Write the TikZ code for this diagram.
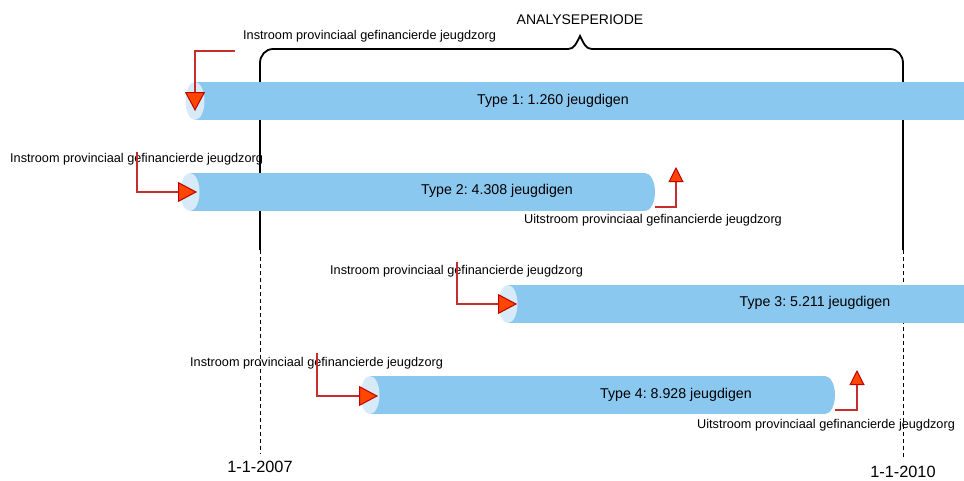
\documentclass[tikz,border=0pt]{standalone}
\usepackage{fontspec}
\setmainfont{Liberation Sans}
\frenchspacing
\usetikzlibrary{arrows.meta}
\definecolor{barblue}{RGB}{139,200,240}
\definecolor{barface}{RGB}{214,234,247}
\definecolor{redline}{RGB}{200,45,45}
\definecolor{tipfill}{RGB}{255,70,0}
\definecolor{tipdraw}{RGB}{190,0,0}
\tikzset{
  lbl/.style={inner sep=0pt, anchor=west, font=\fontsize{12.7}{14}\selectfont},
  typetxt/.style={inner sep=0pt, font=\fontsize{14.2}{16}\selectfont},
  datetxt/.style={inner sep=0pt, font=\fontsize{16.3}{18}\selectfont},
  brace/.style={line width=1.8pt, black},
  dashline/.style={line width=1pt, black, dash pattern=on 4pt off 3pt},
  bigarrow/.style={line width=1.4pt, redline, -{Triangle[length=19pt,width=20pt,fill=tipfill,color=tipdraw,line width=1pt]}},
  smallarrow/.style={line width=1.4pt, redline, -{Triangle[length=15pt,width=15pt,fill=tipfill,color=tipdraw,line width=1pt]}},
}
\begin{document}
\begin{tikzpicture}[x=1pt,y=-1pt]
\useasboundingbox (0,0) rectangle (964,480);
% analysis period brace and date lines
\coordinate (bl) at (260,250);
\coordinate (br) at (903,250);
\coordinate (peak) at (580,36);
\draw[brace] (bl) -- (260,63) to[out=90,in=180] (273,49) -- (568,49)
  .. controls (574,49) and (576,44) .. (peak)
  .. controls (584,44) and (586,49) .. (592,49) -- (890,49)
  to[out=0,in=90] (903,63) -- (br);
\coordinate (dl) at (260,454);
\coordinate (dr) at (903,457);
\draw[dashline] (bl) -- (dl);
\draw[dashline] (br) -- (dr);
% bars
\fill[barblue] (195,82) rectangle (964,120);
\fill[barface] (195,101) ellipse [x radius=9.5, y radius=19];
\fill[barblue] (190,173) rectangle (645,211);
\fill[barblue] (645,192) ellipse [x radius=10, y radius=19];
\fill[barface] (190,192) ellipse [x radius=9.5, y radius=19];
\fill[barblue] (508,285) rectangle (964,323);
\fill[barface] (508,304) ellipse [x radius=9.5, y radius=19];
\fill[barblue] (370,376) rectangle (825,414);
\fill[barblue] (825,395) ellipse [x radius=10, y radius=19];
\fill[barface] (370,395) ellipse [x radius=9.5, y radius=19];
% bar texts
\node[typetxt] (t1) at (553,101) {Type 1: 1.260 jeugdigen};
\node[typetxt] (t2) at (497,191) {Type 2: 4.308 jeugdigen};
\node[typetxt] (t3) at (815,303) {Type 3: 5.211 jeugdigen};
\node[typetxt] (t4) at (676,395) {Type 4: 8.928 jeugdigen};
% labels
\node[inner sep=0pt, font=\fontsize{14}{16}\selectfont] (ap) at (580,20) {ANALYSEPERIODE};
\node[lbl] (i1) at (243,36) {Instroom provinciaal gefinancierde jeugdzorg};
\node[lbl] (i2) at (10,159) {Instroom provinciaal gefinancierde jeugdzorg};
\node[lbl] (i3) at (330,271) {Instroom provinciaal gefinancierde jeugdzorg};
\node[lbl] (i4) at (190,363) {Instroom provinciaal gefinancierde jeugdzorg};
\node[lbl] (u2) at (524,220) {Uitstroom provinciaal gefinancierde jeugdzorg};
\node[lbl] (u4) at (697,425) {Uitstroom provinciaal gefinancierde jeugdzorg};
\node[datetxt] (d1) at (260,467) {1-1-2007};
\node[datetxt] (d2) at (903,472) {1-1-2010};
% inflow / outflow arrows
\coordinate (s1) at (235,51);
\coordinate (e1) at (195,111);
\draw[bigarrow] (s1) -| (e1);
\coordinate (s2) at (137,152);
\coordinate (e2) at (197,192);
\draw[bigarrow] (s2) |- (e2);
\coordinate (s3) at (457,262);
\coordinate (e3) at (517,304);
\draw[bigarrow] (s3) |- (e3);
\coordinate (s4) at (317,353);
\coordinate (e4) at (378,396);
\draw[bigarrow] (s4) |- (e4);
\coordinate (o2s) at (655,207);
\coordinate (o2e) at (676,167);
\draw[smallarrow] (o2s) -| (o2e);
\coordinate (o4s) at (835,410);
\coordinate (o4e) at (857,370);
\draw[smallarrow] (o4s) -| (o4e);
\end{tikzpicture}
\end{document}
